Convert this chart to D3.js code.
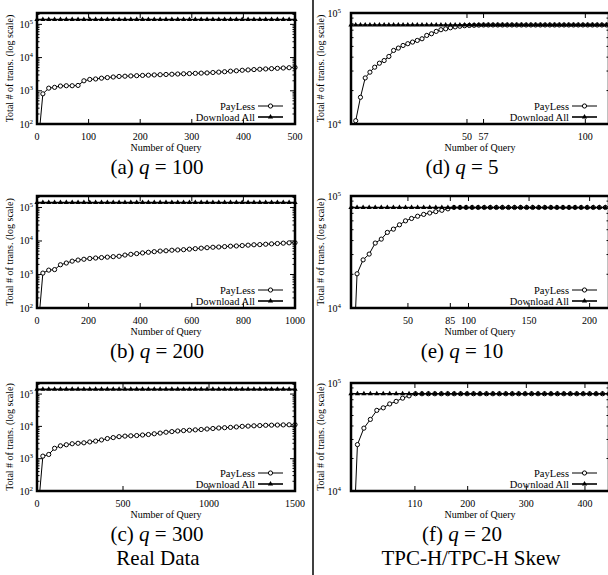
<!DOCTYPE html>
<html>
<meta charset="utf-8">
<title>PayLess vs Download All</title>
<style>
  body { margin: 0; background: #fff; }
  .frame { fill: none; stroke: #000; stroke-width: 2.5; }
  .tick { stroke: #000; stroke-width: 1; }
  .payless { fill: none; stroke: #000; stroke-width: 1; }
  .dlall { fill: none; stroke: #000; stroke-width: 1.6; }
</style>
<body>
<script src="https://d3js.org/d3.v7.min.js"></script>
<script>
// x tick labels of each panel
var ticksA = [0, 100, 200, 300, 400, 500];
var ticksB = [0, 200, 400, 600, 800, 1000];
var ticksC = [0, 500, 1000, 1500];
var ticksD = [50, 57, 100];
var ticksE = [50, 85, 100, 150, 200];
var ticksF = [110, 200, 300, 400];

// PayLess: total # of transactions at each plotted step
var paylessA = [810, 1200, 1270, 1390, 1420, 1420, 1450, 2000, 2200, 2270, 2400, 2500, 2600, 2700, 2750,
  2800, 2850, 2900, 2950, 3000, 3050, 3100, 3150, 3200, 3250, 3300, 3350, 3400, 3450, 3550, 3650, 3750,
  3900, 4000, 4150, 4250, 4350, 4450, 4550, 4650, 4750, 4850, 4950, 5050];
var paylessB = [1100, 1350, 1400, 1950, 2200, 2500, 2700, 2850, 3000, 3100, 3200, 3300, 3400, 3500, 3800,
  4000, 4200, 4400, 4600, 4800, 5000, 5100, 5300, 5400, 5500, 5700, 5900, 6100, 6300, 6500, 6600, 6800,
  7000, 7100, 7300, 7500, 7700, 7800, 8000, 8200, 8400, 8600, 8800, 8900];
var paylessC = [1200, 1350, 2100, 2500, 2700, 2900, 3000, 3100, 3300, 3500, 3800, 4200, 4500, 4800, 5000,
  5100, 5200, 5400, 5600, 5900, 6200, 6600, 6900, 7200, 7400, 7600, 7800, 8000, 8300, 8600, 8900, 9100,
  9300, 9600, 10000, 10200, 10400, 10600, 10800, 10900, 11000, 11100, 11200, 11300];
var paylessD = [10700, 17400, 26000, 29300, 32500, 35300, 37300, 40600, 46000, 48300, 51000, 52900, 54700,
  56600, 58600, 62800, 65000, 68300, 70700, 72000, 73600, 75000, 76000, 76800, 77200, 77500, 77800, 78000];
var paylessE = [20200, 26900, 30300, 38000, 41200, 47300, 50600, 55300, 60000, 63000, 66000, 68500, 70500,
  72500, 74500, 76800, 79000];
var paylessF = [26900, 38200, 46000, 55800, 58900, 64000, 67600, 72400, 76000, 79500];
// first PayLess value, below the visible range (null = none)
var paylessStart = [10, 10, 10, null, 1000, 1000];

// Download All: constant total # of transactions
var downloadAll = [140000, 140000, 140000, 78000, 79000, 79500];

var captions = ["(a)", "(b)", "(c)", "(d)", "(e)", "(f)"];
var qValues = ["100", "200", "300", "5", "10", "20"];
var groupNames = ["Real Data", "TPC-H/TPC-H Skew"];

var colLeft = [37, 351], colRight = [295, 609];
var rowTop = [13, 196, 383], rowBottom = [124, 308, 491];
var captionX = [157, 462], groupX = [158, 471];

var panels = [
  {col: 0, row: 0, xDomain: [0, 500],  x0: 0, step: 500 / 44,  ticks: ticksA, payless: paylessA, yDomain: [100, 2.2e5], capped: false},
  {col: 0, row: 1, xDomain: [0, 1000], x0: 0, step: 1000 / 44, ticks: ticksB, payless: paylessB, yDomain: [100, 2.2e5], capped: false},
  {col: 0, row: 2, xDomain: [0, 1500], x0: 0, step: 1500 / 44, ticks: ticksC, payless: paylessC, yDomain: [100, 2.2e5], capped: false},
  {col: 1, row: 0, xDomain: [1, 110],  x0: 1, step: 2,  ticks: ticksD, payless: paylessD, yDomain: [1e4, 1e5], capped: true},
  {col: 1, row: 1, xDomain: [3, 216],  x0: 3, step: 5,  ticks: ticksE, payless: paylessE, yDomain: [1e4, 1e5], capped: true},
  {col: 1, row: 2, xDomain: [1, 441],  x0: 1, step: 11, ticks: ticksF, payless: paylessF, yDomain: [1e4, 1e5], capped: true}
];

var serif = "'Liberation Serif', 'Times New Roman', Times, 'DejaVu Serif', serif";

var svg = d3.select("body").append("svg")
    .attr("width", 608)
    .attr("height", 575)
    .attr("font-family", serif)
    .style("font-family", serif);

// column separator
svg.append("line")
    .attr("x1", 313).attr("x2", 313)
    .attr("y1", 0).attr("y2", 575)
    .attr("stroke", "#000")
    .attr("stroke-width", 1.5);

var triangle = d3.symbol().type(d3.symbolTriangle).size(12);

function txt(sel, size) {
  return sel.append("text")
      .attr("font-family", serif)
      .attr("font-size", size)
      .attr("fill", "#000");
}

panels.forEach(function(p, i) {
  var L = colLeft[p.col], R = colRight[p.col], T = rowTop[p.row], B = rowBottom[p.row];
  var x = d3.scaleLinear().domain(p.xDomain).range([L, R]);
  var y = d3.scaleLog().domain(p.yDomain).range([B, T]);
  var g = svg.append("g");
  var dl = downloadAll[i];

  g.append("clipPath").attr("id", "clip" + i)
    .append("rect").attr("x", L).attr("y", T).attr("width", R - L).attr("height", B - T);
  g.append("clipPath").attr("id", "mclip" + i)
    .append("rect").attr("x", L - 4).attr("y", T - 4).attr("width", R - L + 8).attr("height", B - T + 6);

  // y ticks, major + minor, mirrored
  y.ticks().forEach(function(v) {
    var major = Math.abs(Math.log10(v) - Math.round(Math.log10(v))) < 1e-9;
    var len = major ? 5 : 2.5;
    g.append("line").attr("class", "tick").attr("x1", L).attr("x2", L + len).attr("y1", y(v)).attr("y2", y(v));
    g.append("line").attr("class", "tick").attr("x1", R).attr("x2", R - len).attr("y1", y(v)).attr("y2", y(v));
    if (major) {
      var t = txt(g, 10)
          .attr("x", p.col === 0 ? L - 4 : L - 10)
          .attr("y", y(v) + 3.5)
          .attr("text-anchor", "end")
          .text("10");
      t.append("tspan").attr("dy", -4).attr("font-size", 7).text(Math.round(Math.log10(v)));
    }
  });

  // x ticks
  p.ticks.forEach(function(v) {
    g.append("line").attr("class", "tick").attr("x1", x(v)).attr("x2", x(v)).attr("y1", B).attr("y2", B - 5);
    g.append("line").attr("class", "tick").attr("x1", x(v)).attr("x2", x(v)).attr("y1", T).attr("y2", T + 5);
    txt(g, 10)
        .attr("x", x(v))
        .attr("y", B + 16)
        .attr("text-anchor", "middle")
        .text(v);
  });

  // axis titles
  txt(g, 10)
      .attr("x", (L + R) / 2)
      .attr("y", B + 27)
      .attr("text-anchor", "middle")
      .text("Number of Query");
  txt(g, 10)
      .attr("transform", "translate(" + (p.col === 0 ? 13 : 324) + "," + ((T + B) / 2) + ") rotate(-90)")
      .attr("text-anchor", "middle")
      .text("Total # of trans. (log scale)");

  // series points
  var payPts = [];
  if (paylessStart[i] !== null) payPts.push({x: p.x0, v: paylessStart[i], mark: false});
  p.payless.forEach(function(v, k) {
    payPts.push({x: p.x0 + (k + 1) * p.step, v: v, mark: true});
  });
  var dlPts = [];
  for (var k = 0; p.x0 + k * p.step <= p.xDomain[1] + 1e-6; k++) {
    var xv = p.x0 + k * p.step;
    dlPts.push({x: xv, v: dl});
    if (p.capped && k > p.payless.length) payPts.push({x: xv, v: dl, mark: true});
  }

  var line = d3.line().x(function(d) { return x(d.x); }).y(function(d) { return y(d.v); });

  g.append("path").datum(payPts)
      .attr("class", "payless")
      .attr("clip-path", "url(#clip" + i + ")")
      .attr("d", line);
  g.append("g").attr("clip-path", "url(#mclip" + i + ")")
    .selectAll("circle")
    .data(payPts.filter(function(d) { return d.mark; }))
    .enter().append("circle")
      .attr("cx", function(d) { return x(d.x); })
      .attr("cy", function(d) { return y(d.v); })
      .attr("r", 2.1)
      .attr("fill", "#fff")
      .attr("stroke", "#000")
      .attr("stroke-width", 1);

  g.append("path").datum(dlPts)
      .attr("class", "dlall")
      .attr("clip-path", "url(#clip" + i + ")")
      .attr("d", line);
  g.append("g").attr("clip-path", "url(#mclip" + i + ")")
    .selectAll("path")
    .data(dlPts)
    .enter().append("path")
      .attr("d", triangle)
      .attr("transform", function(d) { return "translate(" + x(d.x) + "," + y(d.v) + ")"; })
      .attr("fill", "#000");

  // frame
  g.append("rect").attr("class", "frame")
      .attr("x", L).attr("y", T).attr("width", R - L).attr("height", B - T);

  // legend
  var lineEnd = R - 12, lineStart = lineEnd - 25, textEnd = lineStart - 3;
  var legend = [
    {label: "PayLess", yy: B - 18, mark: "circle"},
    {label: "Download All", yy: B - 7, mark: "triangle"}
  ];
  legend.forEach(function(l) {
    txt(g, 10.5)
        .attr("x", textEnd).attr("y", l.yy + 3.5)
        .attr("text-anchor", "end")
        .text(l.label);
    g.append("line")
        .attr("x1", lineStart).attr("x2", lineEnd)
        .attr("y1", l.yy).attr("y2", l.yy)
        .attr("stroke", "#000")
        .attr("stroke-width", l.mark === "circle" ? 1 : 1.6);
    var mx = (lineStart + lineEnd) / 2;
    if (l.mark === "circle") {
      g.append("circle").attr("cx", mx).attr("cy", l.yy).attr("r", 2.1)
          .attr("fill", "#fff").attr("stroke", "#000");
    } else {
      g.append("path").attr("d", triangle)
          .attr("transform", "translate(" + mx + "," + l.yy + ")")
          .attr("fill", "#000");
    }
  });

  // caption
  var cap = txt(g, 21)
      .attr("x", captionX[p.col])
      .attr("y", B + 50)
      .attr("text-anchor", "middle");
  cap.append("tspan").text(captions[i] + " ");
  cap.append("tspan").attr("font-style", "italic").text("q");
  cap.append("tspan").text(" = " + qValues[i]);

  if (p.row === 2) {
    txt(g, 21)
        .attr("x", groupX[p.col])
        .attr("y", B + 74)
        .attr("text-anchor", "middle")
        .text(groupNames[p.col]);
  }
});
</script>
</body>
</html>
